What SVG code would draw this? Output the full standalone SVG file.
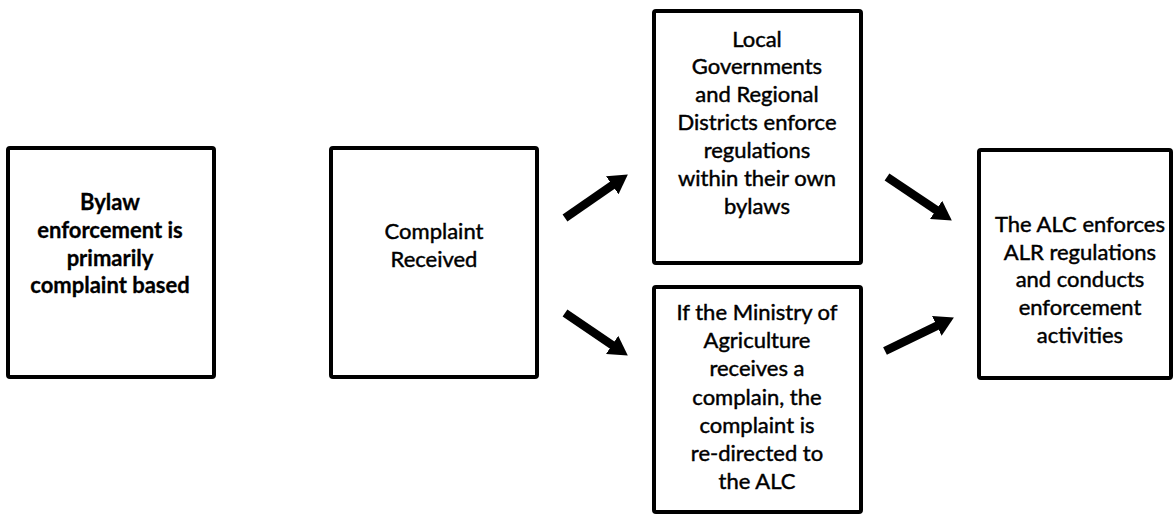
<svg xmlns="http://www.w3.org/2000/svg" width="1174" height="515" viewBox="0 0 1174 515">
<style>
.box{fill:#fff;stroke:#000;stroke-width:4}
.t{font-family:Lato,"Liberation Sans",sans-serif;font-size:22px;fill:#000;text-anchor:middle;stroke:#000;stroke-width:0.45}
.b{font-weight:bold;stroke-width:0.3}
.arr{stroke:#000;stroke-width:8.5;fill:none;marker-end:url(#ah)}
</style>
<defs>
<marker id="ah" markerUnits="userSpaceOnUse" markerWidth="20" markerHeight="22" refX="8" refY="11" orient="auto" viewBox="0 0 20 22">
<path d="M0,0 L19,11 L0,22 z" fill="#000"/>
</marker>
</defs>
<rect width="1174" height="515" fill="#fff"/>
<g id="connectors">
<line class="arr" x1="565" y1="218" x2="618.8" y2="180.7"/>
<line class="arr" x1="565" y1="313" x2="618.7" y2="349.4"/>
<line class="arr" x1="887" y1="177" x2="942.7" y2="214.4"/>
<line class="arr" x1="885" y1="351" x2="944" y2="322.4"/>
</g>
<g id="node-bylaw">
<rect class="box" x="8" y="148" width="206" height="229" rx="2"/>
<text class="t b"><tspan x="110" y="210">Bylaw</tspan><tspan x="110" y="238">enforcement is</tspan><tspan x="110" y="266">primarily</tspan><tspan x="110" y="293">complaint based</tspan></text>
</g>
<g id="node-complaint">
<rect class="box" x="331" y="148" width="206" height="229" rx="2"/>
<text class="t"><tspan x="434" y="239">Complaint</tspan><tspan x="434" y="267">Received</tspan></text>
</g>
<g id="node-local">
<rect class="box" x="654" y="11" width="207" height="252" rx="2"/>
<text class="t"><tspan x="757" y="47">Local</tspan><tspan x="757" y="74">Governments</tspan><tspan x="757" y="102">and Regional</tspan><tspan x="757" y="130">Districts enforce</tspan><tspan x="757" y="158">regulations</tspan><tspan x="757" y="186">within their own</tspan><tspan x="757" y="214">bylaws</tspan></text>
</g>
<g id="node-ministry">
<rect class="box" x="654" y="287" width="207" height="225" rx="2"/>
<text class="t"><tspan x="757" y="320">If the Ministry of</tspan><tspan x="757" y="348">Agriculture</tspan><tspan x="757" y="376">receives a</tspan><tspan x="757" y="405">complain, the</tspan><tspan x="757" y="433">complaint is</tspan><tspan x="757" y="461">re-directed to</tspan><tspan x="757" y="489">the ALC</tspan></text>
</g>
<g id="node-alc">
<rect class="box" x="979" y="150" width="192" height="228" rx="2"/>
<text class="t"><tspan x="1080" y="232">The ALC enforces</tspan><tspan x="1080" y="260">ALR regulations</tspan><tspan x="1080" y="287">and conducts</tspan><tspan x="1080" y="315">enforcement</tspan><tspan x="1080" y="343">activities</tspan></text>
</g>
</svg>
